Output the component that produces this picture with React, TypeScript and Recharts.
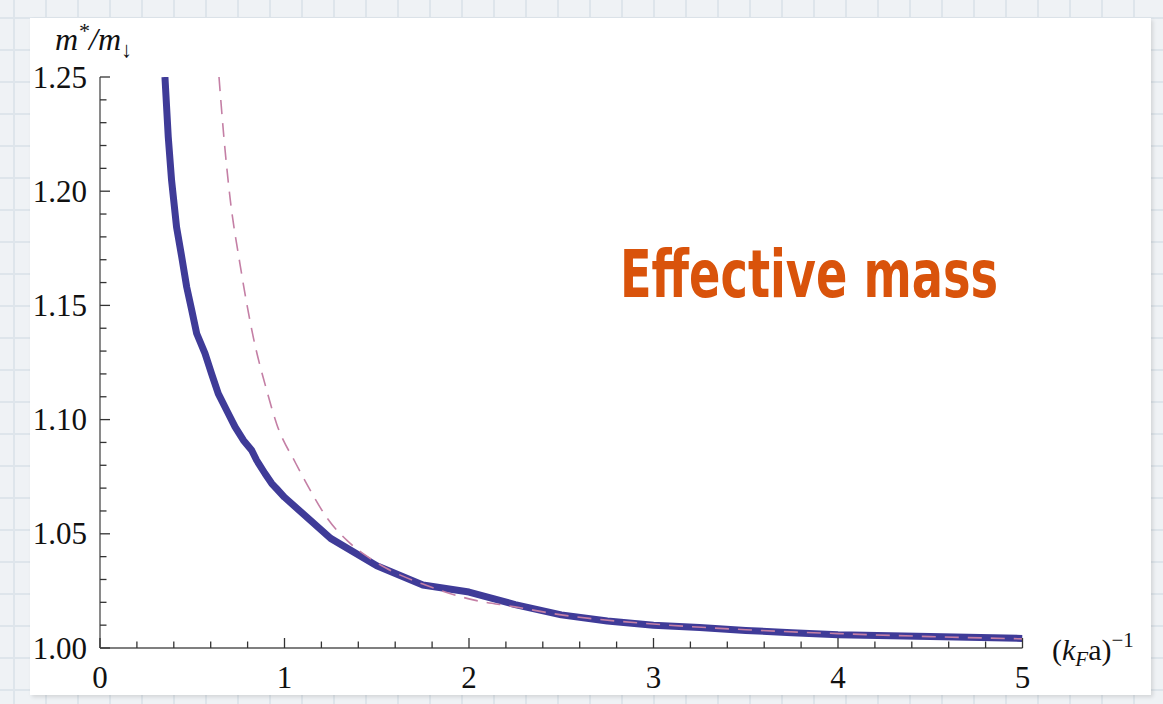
import React from "react";
import { LineChart, Line, XAxis, YAxis } from "recharts";

// thick curve
const fullX = [0.352, 0.37, 0.388, 0.415, 0.443, 0.47, 0.497, 0.524, 0.569, 0.605, 0.641, 0.687, 0.732, 0.777, 0.822, 0.849, 0.894, 0.931, 0.96, 1.0, 1.25, 1.5, 1.75, 2.0, 2.25, 2.5, 2.75, 3.0, 3.25, 3.5, 3.75, 4.0, 4.5, 5.0];
const fullY = [1.25, 1.2237, 1.2047, 1.1843, 1.1712, 1.158, 1.148, 1.1377, 1.129, 1.12, 1.1114, 1.104, 1.0968, 1.091, 1.0866, 1.0822, 1.0764, 1.072, 1.0695, 1.066, 1.048, 1.036, 1.0276, 1.0245, 1.019, 1.0145, 1.0118, 1.01, 1.009, 1.0077, 1.0067, 1.0058, 1.005, 1.0042];

// dashed curve
const approxX = [0.645, 0.67, 0.705, 0.759, 0.831, 0.903, 0.958, 1.06, 1.14, 1.23, 1.34, 1.45, 1.55, 1.75, 2.0, 2.25, 2.5, 3.0, 3.5, 4.0, 4.5, 5.0];
const approxY = [1.25, 1.225, 1.197, 1.168, 1.136, 1.113, 1.098, 1.081, 1.069, 1.057, 1.047, 1.04, 1.035, 1.028, 1.0215, 1.018, 1.0145, 1.0105, 1.008, 1.0063, 1.005, 1.004];

const xTicks = [0, 0.2, 0.4, 0.6, 0.8, 1, 1.2, 1.4, 1.6, 1.8, 2, 2.2, 2.4, 2.6, 2.8, 3, 3.2, 3.4, 3.6, 3.8, 4, 4.2, 4.4, 4.6, 4.8, 5];
const yTicks = [1, 1.01, 1.02, 1.03, 1.04, 1.05, 1.06, 1.07, 1.08, 1.09, 1.1, 1.11, 1.12, 1.13, 1.14, 1.15, 1.16, 1.17, 1.18, 1.19, 1.2, 1.21, 1.22, 1.23, 1.24, 1.25];

const fullData = fullX.map((x, i) => ({ x, y: fullY[i] }));
const approxData = approxX.map((x, i) => ({ x, y: approxY[i] }));

const SERIF = "'Liberation Serif', 'DejaVu Serif', serif";

function YTick({ x, y, payload }: any) {
  const v = payload.value as number;
  const major = Math.abs(v * 20 - Math.round(v * 20)) < 1e-6;
  return (
    <g>
      <line x1={x} y1={y} x2={x + (major ? 10 : 6.5)} y2={y} stroke="#333" strokeWidth={1.3} />
      {major && (
        <text x={x - 13} y={y} dy="0.34em" textAnchor="end" fontFamily={SERIF} fontSize={31} fill="#111">
          {v.toFixed(2)}
        </text>
      )}
    </g>
  );
}

function XTick({ x, y, payload }: any) {
  const v = payload.value as number;
  const major = Math.abs(v - Math.round(v)) < 1e-6;
  return (
    <g>
      <line x1={x} y1={y} x2={x} y2={y - (major ? 10 : 6.5)} stroke="#333" strokeWidth={1.3} />
      {major && (
        <text x={x} y={y + 40} textAnchor="middle" fontFamily={SERIF} fontSize={31} fill="#111">
          {Math.round(v)}
        </text>
      )}
    </g>
  );
}

export default function App() {
  return (
    <div
      style={{
        position: "absolute",
        left: 0,
        top: 0,
        width: 1163,
        height: 704,
        overflow: "hidden",
        backgroundColor: "#eff2f5",
        backgroundImage:
          "repeating-linear-gradient(90deg, transparent 0px, transparent 13px, #dee5eb 13px, #dee5eb 15px, transparent 15px, transparent 32px)," +
          "repeating-linear-gradient(0deg, transparent 0px, transparent 13px, #dee5eb 13px, #dee5eb 15px, transparent 15px, transparent 32px)",
      }}
    >
      <div
        style={{
          position: "absolute",
          left: 30,
          top: 18,
          width: 1121,
          height: 677,
          background: "#fff",
          boxShadow: "2px 2px 4px rgba(0,0,0,0.12)",
        }}
      />
      <div style={{ position: "absolute", left: 0, top: 0 }}>
        <LineChart width={1163} height={704} margin={{ top: 77, right: 140.5, bottom: 16, left: 30 }}>
          <XAxis
            type="number"
            dataKey="x"
            domain={[0, 5]}
            ticks={xTicks}
            interval={0}
            height={40}
            tickSize={0}
            tickMargin={0}
            tickLine={false}
            axisLine={{ stroke: "#555", strokeWidth: 1.6 }}
            tick={<XTick />}
            allowDataOverflow
          />
          <YAxis
            type="number"
            dataKey="y"
            domain={[1, 1.25]}
            ticks={yTicks}
            interval={0}
            width={70}
            tickSize={0}
            tickMargin={0}
            tickLine={false}
            axisLine={{ stroke: "#8a8a8a", strokeWidth: 2 }}
            tick={<YTick />}
            allowDataOverflow
          />
          <Line
            data={fullData}
            dataKey="y"
            type="linear"
            stroke="#3f3b98"
            strokeWidth={7}
            strokeLinejoin="round"
            dot={false}
            isAnimationActive={false}
          />
          <Line
            data={approxData}
            dataKey="y"
            type="monotone"
            stroke="#c47fa5"
            strokeWidth={1.6}
            strokeDasharray="14 9"
            dot={false}
            isAnimationActive={false}
          />
        </LineChart>
      </div>
      <svg width={1163} height={704} style={{ position: "absolute", left: 0, top: 0, pointerEvents: "none" }}>
        <text x={55} y={50} fontFamily={SERIF} fontSize={32} fontStyle="italic" fill="#111">
          m<tspan dy={-12} fontSize={22}>*</tspan>
          <tspan dy={12}>/m</tspan>
          <tspan dy={7} fontSize={22} fontStyle="normal">↓</tspan>
        </text>
        <text x={1052} y={660} fontFamily={SERIF} fontSize={30} fill="#111">
          (<tspan fontStyle="italic">k</tspan>
          <tspan dy={6} fontSize={21} fontStyle="italic">F</tspan>
          <tspan dy={-6}>a)</tspan>
          <tspan dy={-13} fontSize={21}>−1</tspan>
        </text>
        <text
          x={620}
          y={297}
          fontFamily="'DejaVu Sans Condensed', 'DejaVu Sans', sans-serif"
          fontWeight="bold"
          fontSize={66}
          fill="#d9530b"
          textLength={378}
          lengthAdjust="spacingAndGlyphs"
        >
          Effective mass
        </text>
      </svg>
    </div>
  );
}
